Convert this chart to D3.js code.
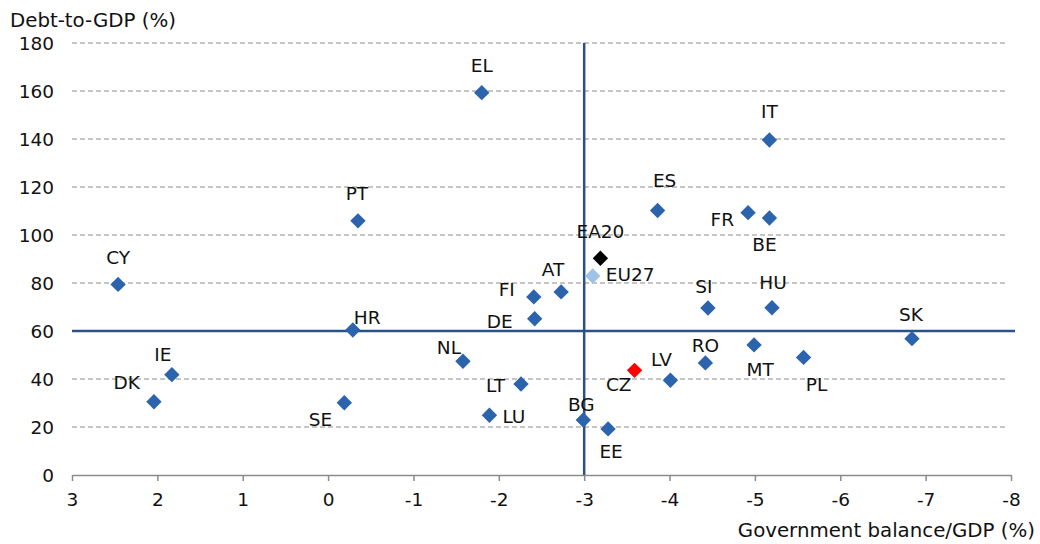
<!DOCTYPE html>
<html>
<head>
<meta charset="utf-8">
<script src="https://cdn.jsdelivr.net/npm/d3@7"></script>
<style>
  body { margin: 0; background: #fff; }
  svg { font-family: "DejaVu Sans", Verdana, sans-serif; }
  .grid line { stroke: #8c8c8c; stroke-dasharray: 5,3; stroke-width: 1.2; }
  .label { font-size: 18.5px; fill: #111; }
</style>
</head>
<body>
<svg id="chart" width="1040" height="544"></svg>
<script>
// data
const countries = ["EL", "IT", "ES", "FR", "BE", "PT", "CY", "AT", "FI", "DE", "SI", "HU", "SK", "HR",
  "NL", "RO", "MT", "PL", "LV", "BG", "EE", "LT", "LU", "IE", "DK", "SE"];
const balance = [-1.80, -5.17, -3.86, -4.92, -5.17, -0.35, 2.46, -2.73, -2.41, -2.42, -4.45, -5.20, -6.84, -0.29,
  -1.58, -4.42, -4.99, -5.57, -4.01, -2.99, -3.28, -2.26, -1.89, 1.83, 2.04, -0.19];
const debt = [159.3, 139.6, 110.2, 109.3, 107.1, 105.9, 79.4, 76.3, 74.2, 65.1, 69.6, 69.7, 56.8, 60.4,
  47.4, 46.7, 54.2, 49.0, 39.5, 22.9, 19.2, 37.9, 24.9, 41.8, 30.5, 30.1];

// highlighted aggregates
const specials = ["EA20", "EU27", "CZ"];
const specialBalance = [-3.19, -3.10, -3.59];
const specialDebt = [90.3, 82.9, 43.6];
const specialColor = ["#000000", "#9dc3e6", "#ff0000"];

const xTicks = [3, 2, 1, 0, -1, -2, -3, -4, -5, -6, -7, -8];
const yTicks = [0, 20, 40, 60, 80, 100, 120, 140, 160, 180];
const refBalance = -3;
const refDebt = 60;

// label placement: [anchor, dx, dy] from the marker centre (dy = label's vertical centre)
const labelPos = {
  EL: ["middle", 0, -27], IT: ["middle", 0, -29], ES: ["middle", 7, -30], FR: ["end", -14, 7],
  BE: ["middle", -5, 26], PT: ["middle", -1, -28], CY: ["middle", 0, -27], AT: ["middle", -8, -23],
  FI: ["end", -19, -8], DE: ["end", -22, 3], SI: ["middle", -4, -22], HU: ["middle", 1, -25],
  SK: ["middle", -1, -24], HR: ["start", 1, -13], NL: ["end", -2, -14], RO: ["middle", 0, -18],
  MT: ["middle", 6, 24], PL: ["middle", 13, 27], LV: ["middle", -9, -21], BG: ["middle", -2, -16],
  EE: ["middle", 3, 22], LT: ["end", -16, 1], LU: ["start", 13, 1], IE: ["middle", -9, -20],
  DK: ["end", -14, -19], SE: ["end", -12, 17], EA20: ["middle", 0, -27], EU27: ["start", 13, -2],
  CZ: ["end", -3, 14]
};

const margin = { top: 43, right: 29, bottom: 69, left: 72 };
const svg = d3.select("#chart");
const width = 1040 - margin.left - margin.right;
const height = 544 - margin.top - margin.bottom;

const x = d3.scaleLinear().domain([3, -8]).range([0, width]);
const y = d3.scaleLinear().domain([0, 180]).range([height, 0]);

const g = svg.append("g")
  .attr("transform", "translate(" + margin.left + "," + margin.top + ")");

// dashed gridlines
g.append("g")
  .attr("class", "grid")
  .selectAll("line")
  .data(yTicks.filter(d => d > 0 && d !== refDebt))
  .enter()
  .append("line")
  .attr("x1", 0)
  .attr("x2", width - 4)
  .attr("y1", d => y(d))
  .attr("y2", d => y(d));

// y tick labels
g.append("g")
  .selectAll("text")
  .data(yTicks)
  .enter()
  .append("text")
  .attr("x", -18)
  .attr("y", d => y(d))
  .attr("dy", "0.36em")
  .attr("text-anchor", "end")
  .style("font-size", "18.5px")
  .style("fill", "#111")
  .text(d => d);

// x axis
const xAxis = g.append("g")
  .attr("transform", "translate(0," + height + ")")
  .call(d3.axisBottom(x).tickValues(xTicks).tickSize(6).tickSizeOuter(0).tickPadding(12)
    .tickFormat(d => String(d)));
xAxis.select(".domain").attr("stroke", "#8c8c8c").attr("stroke-width", 1.5);
xAxis.selectAll(".tick line").attr("stroke", "#8c8c8c").attr("stroke-width", 1.5);
xAxis.selectAll(".tick text")
  .style("font-size", "18.5px")
  .style("font-family", "DejaVu Sans, Verdana, sans-serif")
  .style("fill", "#111");

// reference lines
g.append("line")
  .attr("x1", 0)
  .attr("x2", width + 4)
  .attr("y1", y(refDebt))
  .attr("y2", y(refDebt))
  .attr("stroke", "#2a5189")
  .attr("stroke-width", 2.5);
g.append("line")
  .attr("x1", x(refBalance))
  .attr("x2", x(refBalance))
  .attr("y1", 0)
  .attr("y2", height)
  .attr("stroke", "#2a5189")
  .attr("stroke-width", 2.5);

// build point list
const points = countries.map((c, i) => ({ name: c, bx: balance[i], dy: debt[i], color: "#2b63ad" }))
  .concat(specials.map((c, i) => ({ name: c, bx: specialBalance[i], dy: specialDebt[i], color: specialColor[i] })));

const diamond = d3.symbol().type(d3.symbolSquare).size(118);

g.append("g")
  .selectAll("path")
  .data(points)
  .enter()
  .append("path")
  .attr("d", diamond)
  .attr("fill", d => d.color)
  .attr("transform", d => "translate(" + x(d.bx) + "," + y(d.dy) + ") rotate(45)");

g.append("g")
  .selectAll("text")
  .data(points)
  .enter()
  .append("text")
  .attr("class", "label")
  .attr("x", d => x(d.bx) + labelPos[d.name][1])
  .attr("y", d => y(d.dy) + labelPos[d.name][2])
  .attr("dy", "0.36em")
  .attr("text-anchor", d => labelPos[d.name][0])
  .text(d => d.name);

// axis titles
svg.append("text")
  .attr("x", 10)
  .attr("y", 27)
  .style("font-size", "19.8px")
  .style("fill", "#111")
  .text("Debt-to-GDP (%)");
svg.append("text")
  .attr("x", 1035)
  .attr("y", 537)
  .attr("text-anchor", "end")
  .style("font-size", "19.8px")
  .style("fill", "#111")
  .text("Government balance/GDP (%)");
</script>
</body>
</html>
